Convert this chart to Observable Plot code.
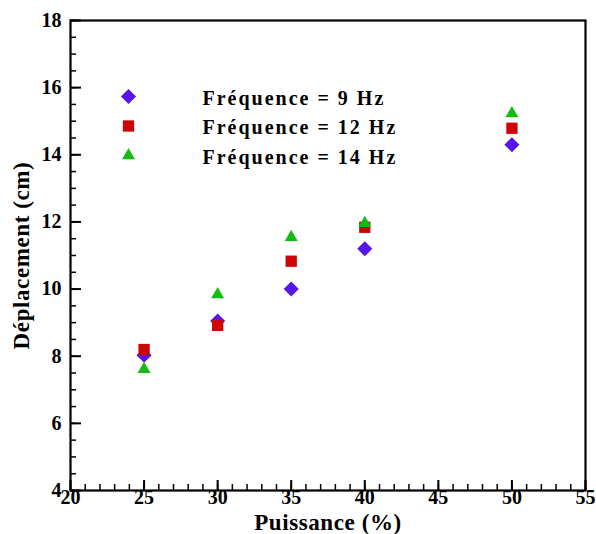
<!DOCTYPE html>
<html><head><meta charset="utf-8">
<script src="https://cdn.jsdelivr.net/npm/d3@7"></script>
<script src="https://cdn.jsdelivr.net/npm/@observablehq/plot@0.6"></script>
<style>
body{margin:0;background:#fff;}
#chart svg, #chart svg text{font-family:"Liberation Serif","DejaVu Serif","Times New Roman",serif !important;}
.leg text{letter-spacing:2px;}
.lab text{letter-spacing:0.6px;}
</style></head>
<body><div id="chart"></div>
<script>
const puissance = [25, 30, 35, 40, 50];
const dep9 = [8.03, 9.05, 10.0, 11.2, 14.3];
const dep12 = [8.2, 8.92, 10.83, 11.84, 14.79];
const dep14 = [7.61, 9.84, 11.54, 11.96, 15.23];
const seriesNames = ["Fréquence = 9 Hz", "Fréquence = 12 Hz", "Fréquence = 14 Hz"];
const seriesColors = ["#5716e8", "#cc0606", "#14bb14"];
const seriesSymbols = ["diamond2", "square2", "triangle2"];
const seriesR = [6.8, 7.2, 6.2];
const xTicks = [20, 25, 30, 35, 40, 45, 50, 55];
const yTicks = [4, 6, 8, 10, 12, 14, 16, 18];
const xMinor = d3.range(20, 55.01, 1);
const yMinor = d3.range(4, 18.01, 0.5);

const W = 596, H = 534, mL = 70, mR = 11, mT = 20, mB = 44;
const fw = W - mL - mR, fh = H - mT - mB;
const allSeries = [dep9, dep12, dep14];

const marks = [];
marks.push(Plot.tickY(yMinor, {y: d => d, insetRight: fw - 6, stroke: "#000", strokeWidth: 1.5}));
marks.push(Plot.tickY(yTicks, {y: d => d, insetRight: fw - 11, stroke: "#000", strokeWidth: 2}));
marks.push(Plot.tickX(xMinor, {x: d => d, insetTop: fh - 6, stroke: "#000", strokeWidth: 1.5}));
marks.push(Plot.tickX(xTicks, {x: d => d, insetTop: fh - 10, stroke: "#000", strokeWidth: 2}));
marks.push(Plot.frame({stroke: "#000", strokeWidth: 2.2}));
marks.push(Plot.axisY({ticks: yTicks, tickSize: 0, tickPadding: 9, fontSize: 20, fontWeight: "bold", label: null}));
marks.push(Plot.axisX({ticks: xTicks, tickSize: 0, tickPadding: 0, dy: -1, fontSize: 20, fontWeight: "bold", label: null}));
marks.push(Plot.text(["Déplacement (cm)"], {frameAnchor: "left", textAnchor: "middle", lineAnchor: "middle",
  dx: -49, rotate: -90, fontSize: 23, fontWeight: "bold", fill: "#000", className: "lab"}));
marks.push(Plot.text(["Puissance (%)"], {frameAnchor: "bottom", lineAnchor: "middle", dy: 32,
  fontSize: 23, fontWeight: "bold", fill: "#000", className: "lab"}));

allSeries.forEach((vals, i) => {
  marks.push(Plot.dot(puissance.map((p, j) => ({x: p, y: vals[j]})), {
    x: "x", y: "y", symbol: () => seriesSymbols[i], r: seriesR[i],
    fill: seriesColors[i], stroke: "none"
  }));
  marks.push(Plot.dot([seriesNames[i]], {frameAnchor: "top-left", dx: 58, dy: 76 + i * 29.5,
    symbol: () => seriesSymbols[i], r: seriesR[i], fill: seriesColors[i], stroke: "none"}));
  marks.push(Plot.text([seriesNames[i]], {frameAnchor: "top-left", dx: 132, dy: 78 + i * 29.5,
    text: d => d, textAnchor: "start", lineAnchor: "middle", fontSize: 20, fontWeight: "bold", fill: "#000", className: "leg"}));
});

const chart = Plot.plot({
  width: W, height: H,
  marginLeft: mL, marginRight: mR, marginTop: mT, marginBottom: mB,
  x: {domain: [20, 55]},
  y: {domain: [4, 18]},
  symbol: {type: "identity"},
  style: {background: "#fff", color: "#000"},
  marks
});
chart.setAttribute("font-family", "Liberation Serif, DejaVu Serif, serif");
document.getElementById("chart").appendChild(chart);
</script></body></html>
